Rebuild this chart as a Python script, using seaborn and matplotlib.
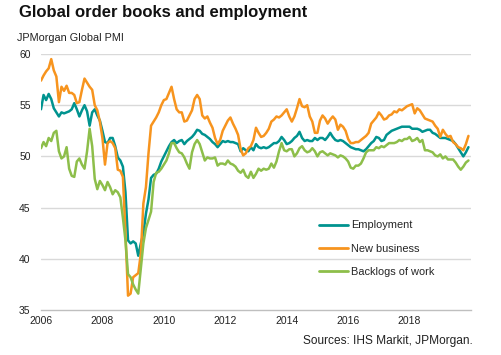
import numpy as np
import pandas as pd
import matplotlib
matplotlib.use("Agg")
import matplotlib.pyplot as plt
import seaborn as sns
from matplotlib.lines import Line2D

# ---- Data (monthly, Jan 2006 - Dec 2019) ----
start_year = 2006
employment = [
    54.6, 56.0, 55.5, 56.1, 55.6, 54.7, 54.3, 53.9, 54.3, 54.2, 54.3, 54.4,   # 2006
    54.6, 55.2, 54.6, 53.9, 54.5, 55.0, 54.4, 53.0, 54.3, 54.6, 54.0, 53.5,   # 2007
    52.5, 51.4, 51.3, 51.8, 51.8, 51.0, 49.9, 49.6, 49.0, 46.5, 41.8, 41.5,   # 2008
    41.7, 41.5, 40.3, 41.5, 42.5, 44.4, 45.8, 47.9, 48.2, 48.3, 48.8, 49.5,   # 2009
    50.0, 50.5, 51.0, 51.4, 51.6, 51.3, 51.5, 51.6, 51.2, 51.5, 51.7, 51.9,   # 2010
    52.2, 52.6, 52.5, 52.2, 52.1, 51.9, 51.7, 51.4, 51.2, 50.9, 51.2, 51.5,   # 2011
    51.4, 51.5, 51.4, 51.4, 51.3, 51.2, 50.5, 50.8, 50.6, 50.5, 50.9, 50.6,   # 2012
    51.2, 50.9, 50.8, 50.9, 50.8, 50.9, 51.1, 51.3, 51.3, 51.5, 51.9, 51.6,   # 2013
    51.2, 51.3, 51.5, 51.8, 52.0, 52.4, 51.8, 51.5, 51.6, 51.5, 51.5, 51.8,   # 2014
    51.6, 51.8, 51.8, 51.6, 51.9, 52.3, 51.9, 51.6, 51.5, 51.6, 51.5, 51.3,   # 2015
    51.1, 50.9, 50.8, 50.7, 50.7, 50.6, 50.5, 50.7, 51.0, 51.3, 51.5, 51.9,   # 2016
    51.8, 51.5, 51.6, 52.1, 52.3, 52.5, 52.6, 52.7, 52.8, 52.9, 52.9, 52.9,   # 2017
    52.9, 52.7, 52.7, 52.7, 52.6, 52.4, 52.5, 52.6, 52.6, 52.3, 52.2, 52.0,   # 2018
    51.8, 51.8, 51.8, 51.7, 51.6, 51.5, 51.2, 50.8, 50.4, 50.0, 50.4, 50.9,   # 2019
]
new_business = [
    57.4, 57.9, 58.3, 58.6, 59.5, 58.4, 57.8, 55.3, 56.8, 56.4, 56.9, 56.2,   # 2006
    56.2, 56.0, 55.2, 55.3, 56.5, 57.6, 57.2, 56.8, 56.5, 55.0, 54.5, 53.4,   # 2007
    51.8, 49.2, 51.3, 51.5, 51.3, 50.8, 48.7, 48.6, 48.0, 42.5, 36.4, 36.6,   # 2008
    38.2, 38.4, 38.6, 40.5, 45.4, 47.0, 50.3, 53.0, 53.4, 53.8, 54.3, 55.0,   # 2009
    55.5, 55.6, 56.2, 56.8, 55.6, 54.6, 54.3, 54.3, 53.4, 53.5, 54.0, 54.5,   # 2010
    55.6, 56.0, 55.6, 54.0, 53.7, 53.9, 53.3, 52.8, 51.8, 51.2, 51.6, 52.5,   # 2011
    53.0, 53.5, 53.8, 53.2, 52.7, 52.1, 50.7, 50.1, 50.3, 50.8, 51.0, 51.6,   # 2012
    52.8, 52.3, 51.9, 52.0, 52.3, 52.7, 53.4, 53.6, 53.9, 53.8, 54.0, 54.3,   # 2013
    54.6, 53.9, 53.4, 53.9, 54.7, 55.6, 54.9, 54.8, 55.0, 53.9, 53.4, 52.3,   # 2014
    52.3, 53.5, 54.0, 53.7, 53.2, 53.6, 53.9, 53.6, 52.6, 53.1, 52.9, 52.5,   # 2015
    51.7, 51.3, 51.3, 51.4, 51.4, 51.6, 51.8, 52.0, 52.3, 53.2, 53.5, 53.8,   # 2016
    54.3, 54.0, 53.6, 53.7, 54.0, 54.1, 54.4, 54.3, 54.6, 54.5, 54.7, 54.9,   # 2017
    55.0, 55.1, 54.2, 54.7, 54.5, 54.1, 53.7, 53.6, 53.5, 53.4, 53.0, 52.7,   # 2018
    51.9, 52.6, 52.2, 51.9, 52.0, 51.4, 51.2, 50.9, 50.8, 50.6, 51.2, 52.0,   # 2019
]
backlogs = [
    50.8, 51.4, 51.0, 51.8, 51.5, 52.3, 52.5, 50.5, 49.8, 50.0, 50.9, 48.8,   # 2006
    48.1, 48.0, 49.5, 49.8, 49.2, 48.8, 50.5, 52.7, 51.0, 47.8, 46.8, 47.6,   # 2007
    47.2, 46.7, 47.5, 47.0, 46.3, 46.7, 46.5, 46.0, 44.0, 41.8, 38.5, 38.2,   # 2008
    37.5, 37.0, 36.6, 39.0, 41.5, 43.0, 43.8, 44.6, 47.5, 48.4, 48.5, 48.8,   # 2009
    49.2, 49.6, 50.3, 51.3, 51.3, 50.8, 50.4, 50.3, 49.9, 49.3, 48.8, 50.4,   # 2010
    51.2, 51.6, 51.2, 50.4, 49.6, 49.9, 49.8, 49.8, 49.9, 49.1, 49.3, 49.3,   # 2011
    49.2, 49.6, 49.3, 49.2, 49.0, 48.6, 48.4, 48.7, 48.1, 47.9, 48.5, 47.9,   # 2012
    48.3, 48.8, 48.6, 48.8, 48.7, 48.8, 49.3, 48.9, 49.5, 50.5, 51.3, 50.6,   # 2013
    50.5, 50.7, 50.7, 50.0, 50.3, 50.8, 51.0, 50.6, 50.4, 50.5, 50.8, 50.5,   # 2014
    50.0, 50.4, 50.5, 50.3, 50.1, 50.3, 50.2, 50.1, 49.9, 50.1, 50.0, 49.8,   # 2015
    49.5, 48.9, 48.8, 49.1, 49.1, 49.3, 49.8, 50.4, 50.6, 50.6, 50.6, 50.9,   # 2016
    50.8, 51.0, 50.9, 51.1, 51.3, 51.3, 51.3, 51.4, 51.6, 51.5, 51.7, 51.7,   # 2017
    51.9, 51.5, 51.6, 51.8, 51.4, 51.6, 50.6, 50.6, 50.5, 50.4, 50.1, 50.0,   # 2018
    50.2, 49.8, 50.0, 49.7, 49.7, 49.7, 49.4, 49.0, 48.7, 49.0, 49.4, 49.6,   # 2019
]
series_names = ["Employment", "New business", "Backlogs of work"]
colors = ["#00938F", "#F7941E", "#8DBE4A"]
x_ticks = [2006, 2008, 2010, 2012, 2014, 2016, 2018, 2020]
x_tick_labels = ["2006", "2008", "2010", "2012", "2014", "2016", "2018", ""]
y_ticks = [35, 40, 45, 50, 55, 60]

n = len(employment)
t = start_year + np.arange(n) / 12.0
df = pd.concat([
    pd.DataFrame({"t": t, "value": vals, "series": name})
    for name, vals in zip(series_names, [employment, new_business, backlogs])
], ignore_index=True)

# ---- Style ----
sns.set_theme(style="white")
plt.rcParams["font.family"] = ["Liberation Sans", "DejaVu Sans"]

fig = plt.figure(figsize=(5.01, 3.55), dpi=100)
ax = fig.add_axes([41 / 501, 1 - 310 / 355, 430 / 501, 256 / 355])

sns.lineplot(data=df, x="t", y="value", hue="series", hue_order=series_names,
             palette=colors, linewidth=1.8, ax=ax, legend=False)

ax.set_xlim(2006, 2020)
ax.set_ylim(35, 60)
ax.set_yticks(y_ticks)
ax.set_xticks(x_ticks)
ax.set_xticklabels(x_tick_labels)
ax.set_xlabel("")
ax.set_ylabel("")
for y in y_ticks[1:]:
    ax.axhline(y, color="#D9D9D9", linewidth=1.0, zorder=0)
for s in ["top", "right", "left"]:
    ax.spines[s].set_visible(False)
ax.spines["bottom"].set_color("#BFBFBF")
ax.spines["bottom"].set_linewidth(1.0)
ax.tick_params(axis="y", length=0, pad=7.5, labelsize=7.5, labelcolor="#222222")
ax.tick_params(axis="x", length=3, width=0.8, color="#BFBFBF", pad=1,
               labelsize=7.5, labelcolor="#222222", direction="out")

# Legend
handles = [Line2D([0], [0], color=c, lw=2.0) for c in colors]
fig.legend(handles, series_names, loc="upper left",
           bbox_to_anchor=(315 / 501, 1 - 216 / 355), frameon=False,
           fontsize=7.9, handlelength=2.6, handletextpad=0.3,
           labelspacing=1.2, borderaxespad=0)

fig.text(19 / 501, 1 - 13 / 355, "Global order books and employment",
         fontsize=12, fontweight="bold", va="center", ha="left", color="#111111")
fig.text(17 / 501, 1 - 38 / 355, "JPMorgan Global PMI",
         fontsize=7.8, va="center", ha="left", color="#222222")
fig.text(473 / 501, 1 - 341 / 355, "Sources: IHS Markit, JPMorgan.",
         fontsize=8.6, va="center", ha="right", color="#222222")

fig.savefig("out.png", dpi=100)
